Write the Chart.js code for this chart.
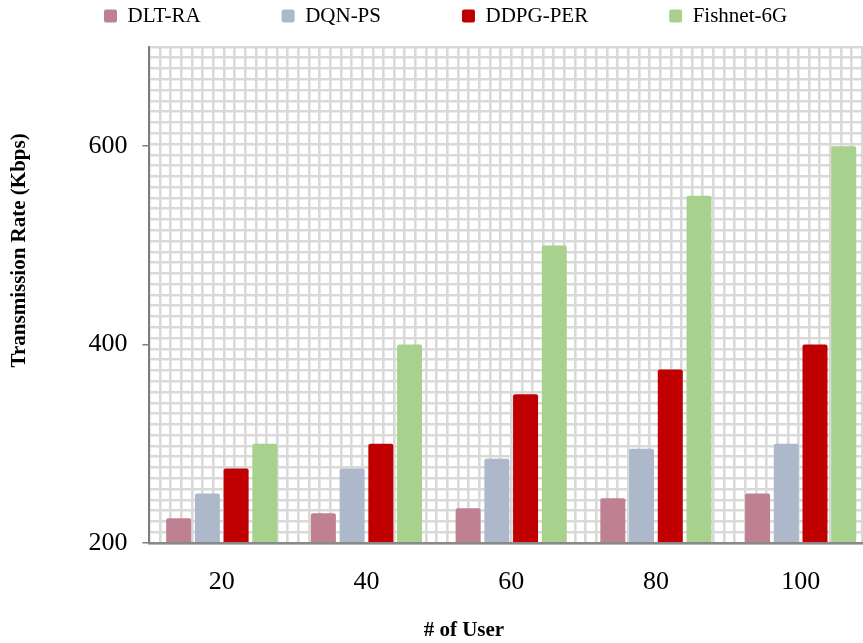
<!DOCTYPE html>
<html>
<head>
<meta charset="utf-8">
<script src="https://cdn.jsdelivr.net/npm/chart.js@4.4.1/dist/chart.umd.min.js"></script>
<style>
html, body { margin: 0; padding: 0; background: #ffffff; overflow: hidden; width: 863px; height: 643px; }
#wrap { width: 873px; height: 643px; }
canvas { display: block; }
</style>
</head>
<body>
<div id="wrap"><canvas id="c" width="873" height="643"></canvas></div>
<script>
// ---- data ----
const categories = ['20', '40', '60', '80', '100'];
const dltRA   = [225, 230, 235, 245, 250];
const dqnPS   = [250, 275, 285, 295, 300];
const ddpgPER = [275, 300, 350, 375, 400];
const fishnet = [300, 400, 500, 550, 600];
const yTicks  = [200, 400, 600];
const seriesNames = ['DLT-RA', 'DQN-PS', 'DDPG-PER', 'Fishnet-6G'];

const SERIF = "'Liberation Serif', 'Times New Roman', serif";

const legendPlacement = {
  id: 'legendPlacement',
  afterLayout(chart) {
    const lg = chart.legend;
    if (!lg) return;
    const p = lg.options.labels.padding;
    lg.left = 104 - p;
    lg.right = chart.width + 500;
    lg.top = 5.5 - p;
  }
};

new Chart(document.getElementById('c'), {
  type: 'bar',
  data: {
    labels: categories,
    datasets: [
      { label: seriesNames[0], data: dltRA,   backgroundColor: '#BF8192', xAxisID: 'x', yAxisID: 'y' },
      { label: seriesNames[1], data: dqnPS,   backgroundColor: '#ADB9CA', xAxisID: 'x', yAxisID: 'y' },
      { label: seriesNames[2], data: ddpgPER, backgroundColor: '#C00000', xAxisID: 'x', yAxisID: 'y' },
      { label: seriesNames[3], data: fishnet, backgroundColor: '#A9D18E', xAxisID: 'x', yAxisID: 'y' }
    ]
  },
  options: {
    responsive: false,
    animation: false,
    devicePixelRatio: 1,
    layout: { padding: 0 },
    datasets: {
      bar: { categoryPercentage: 0.794, barPercentage: 0.87, borderRadius: 2, borderWidth: 0 }
    },
    plugins: {
      tooltip: { enabled: false },
      legend: {
        position: 'top',
        align: 'start',
        maxHeight: 47,
        labels: {
          font: { family: SERIF, size: 21 },
          color: '#000000',
          boxWidth: 13,
          boxHeight: 13,
          padding: 81,
          useBorderRadius: true,
          borderRadius: 2
        }
      }
    },
    scales: {
      x: {
        type: 'category',
        position: 'bottom',
        grid: { display: false },
        border: { display: true, color: '#898989', width: 2.5, z: 1 },
        ticks: { font: { family: SERIF, size: 26 }, color: '#000000', padding: 16 },
        title: {
          display: true,
          text: '# of User' + ' '.repeat(18),
          font: { family: SERIF, size: 21, weight: 'bold' },
          color: '#000000',
          padding: { top: 0, bottom: 0 }
        },
        afterFit(s) { s.height = 100; }
      },
      y: {
        type: 'linear',
        position: 'left',
        min: 200,
        max: 700,
        afterBuildTicks(s) { s.ticks = yTicks.map(v => ({ value: v })); },
        grid: { display: true, drawOnChartArea: false, drawTicks: true, tickLength: 7, color: '#808080', lineWidth: 1.5 },
        border: { display: true, color: '#7f7f7f', width: 2, z: 1 },
        ticks: { font: { family: SERIF, size: 26 }, color: '#000000', padding: 15 },
        title: {
          display: true,
          text: ' '.repeat(17) + 'Transmission Rate (Kbps)',
          font: { family: SERIF, size: 21, weight: 'bold' },
          color: '#000000',
          padding: { top: 7, bottom: 0 }
        },
        afterFit(s) { s.width = 149.4; }
      },
      gx: {
        type: 'linear',
        position: 'bottom',
        min: 0,
        max: 67,
        ticks: { display: false, stepSize: 1 },
        grid: { color: '#d9d9d9', lineWidth: 2.6, drawTicks: false },
        border: { display: false },
        afterFit(s) { s.height = 0; }
      },
      gy: {
        type: 'linear',
        position: 'left',
        min: 0,
        max: 46,
        ticks: { display: false, stepSize: 1 },
        grid: { color: '#d9d9d9', lineWidth: 2.6, drawTicks: false },
        border: { display: false },
        afterFit(s) { s.width = 0; }
      }
    }
  },
  plugins: [legendPlacement]
});
</script>
</body>
</html>
